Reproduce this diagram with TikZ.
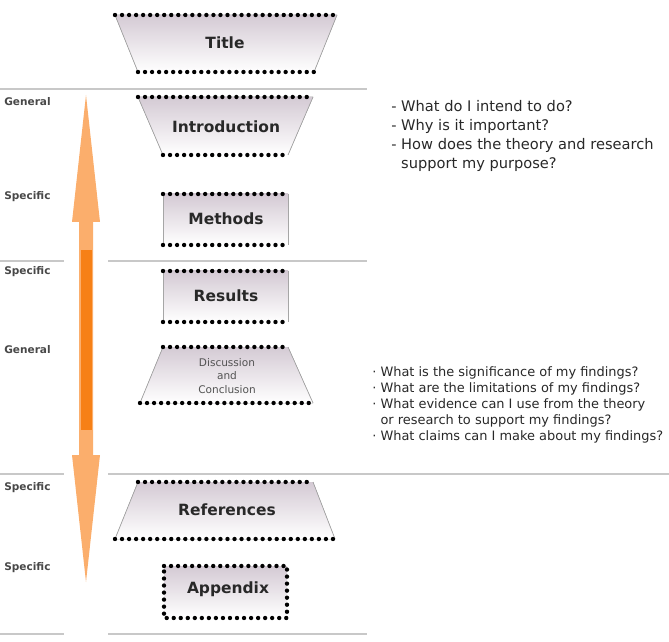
\documentclass[tikz,border=0pt]{standalone}
\usepackage{fontspec}
\setmainfont{DejaVu Sans}
\definecolor{boxtop}{RGB}{212,202,212}
\definecolor{arrowlight}{RGB}{251,174,108}
\definecolor{arrowdark}{RGB}{246,128,22}
\definecolor{rulegrey}{RGB}{200,200,200}
\definecolor{inkgrey}{RGB}{40,40,40}
\begin{document}
\begin{tikzpicture}[x=0.025cm,y=-0.025cm,
		dotrow/.style={line width=3.1pt,line cap=round,dash pattern=on 0pt off 5pt},
		sideline/.style={draw=gray!70,line width=0.5pt},
		boxfill/.style={top color=boxtop,bottom color=white,draw=none},
		boxlabel/.style={font=\fontsize{11}{13}\selectfont\bfseries,text=inkgrey},
		sidelabel/.style={font=\fontsize{7.5}{9}\selectfont\bfseries,text=inkgrey!85,anchor=west,inner sep=0pt},
		rule/.style={draw=rulegrey,line width=0.8pt}]
		\useasboundingbox (0,0) rectangle (669,642);

		% rules between the parts
		\draw[rule] (0,89) -- (367,89);
		\draw[rule] (0,261) -- (64,261);
		\draw[rule] (108,261) -- (367,261);
		\draw[rule] (0,474) -- (64,474);
		\draw[rule] (108,474) -- (669,474);
		\draw[rule] (0,634) -- (64,634);
		\draw[rule] (108,634) -- (367,634);

		% the double arrow
		\fill[arrowlight] (86,95) -- (100,222) -- (93,222) -- (93,455) -- (100,455)
			-- (86,582) -- (72,455) -- (79,455) -- (79,222) -- (72,222) -- cycle;
		\fill[arrowdark] (81,250) -- (92,250) -- (92,430) -- (81,430) -- cycle;

		% Title
		\fill[boxfill] (115,15) -- (337,15) -- (314,72) -- (138,72) -- cycle;
		\draw[sideline] (115,15) -- (138,72) (337,15) -- (314,72);
		\draw[dotrow] (115,15) -- (337,15);
		\draw[dotrow] (138,72) -- (314,72);
		\node[boxlabel] (title) at (225,43) {Title};

		% Introduction
		\fill[boxfill] (138,97) -- (313,97) -- (288,155) -- (163,155) -- cycle;
		\draw[sideline] (138,97) -- (163,155) (313,97) -- (288,155);
		\draw[dotrow] (138,97) -- (313,97);
		\draw[dotrow] (163,155) -- (288,155);
		\node[boxlabel] (intro) at (226,127) {Introduction};

		% Methods
		\fill[boxfill] (163,194) rectangle (288,245);
		\draw[sideline] (163,194) -- (163,245) (288,194) -- (288,245);
		\draw[dotrow] (163,194) -- (288,194);
		\draw[dotrow] (163,245) -- (288,245);
		\node[boxlabel] (methods) at (226,219) {Methods};

		% Results
		\fill[boxfill] (163,271) rectangle (288,322);
		\draw[sideline] (163,271) -- (163,322) (288,271) -- (288,322);
		\draw[dotrow] (163,271) -- (288,271);
		\draw[dotrow] (163,322) -- (288,322);
		\node[boxlabel] (results) at (226,296) {Results};

		% Discussion and Conclusion
		\fill[boxfill] (163,347) -- (288,347) -- (313,403) -- (140,403) -- cycle;
		\draw[sideline] (163,347) -- (140,403) (288,347) -- (313,403);
		\draw[dotrow] (163,347) -- (288,347);
		\draw[dotrow] (140,403) -- (313,403);
		\node[font=\fontsize{7.5}{9.5}\selectfont,text=inkgrey!80,align=center] (disc) at (227,376)
			{Discussion\\and\\Conclusion};

		% References
		\fill[boxfill] (138,482) -- (313,482) -- (335,539) -- (115,539) -- cycle;
		\draw[sideline] (138,482) -- (115,539) (313,482) -- (335,539);
		\draw[dotrow] (138,482) -- (313,482);
		\draw[dotrow] (115,539) -- (335,539);
		\node[boxlabel] (refs) at (227,510) {References};

		% Appendix
		\fill[boxfill] (164,566) rectangle (287,618);
		\draw[dotrow] (164,566) -- (287,566) -- (287,618) -- (164,618) -- cycle;
		\node[boxlabel] (appx) at (228,589) {Appendix};

		% general / specific
		\node[sidelabel] (g1) at (4,102) {General};
		\node[sidelabel] (s1) at (4,197) {Specific};
		\node[sidelabel] (s2) at (4,272) {Specific};
		\node[sidelabel] (g2) at (4,350) {General};
		\node[sidelabel] (s3) at (4,488) {Specific};
		\node[sidelabel] (s4) at (4,568) {Specific};

		% questions
		\node[anchor=north west,inner sep=0pt,align=left,text=inkgrey,
			font=\fontsize{10.4}{13.6}\selectfont] (introq) at (391,100)
			{- What do I intend to do?\\
			- Why is it important?\\
			- How does the theory and research\\
			\phantom{- }support my purpose?};
		\node[anchor=north west,inner sep=0pt,align=left,text=inkgrey,
			font=\fontsize{9.2}{11.4}\selectfont] (discq) at (372,366)
			{· What is the significance of my findings?\\
			· What are the limitations of my findings?\\
			· What evidence can I use from the theory\\
			\phantom{· }or research to support my findings?\\
			· What claims can I make about my findings?};
	\end{tikzpicture}
\end{document}
